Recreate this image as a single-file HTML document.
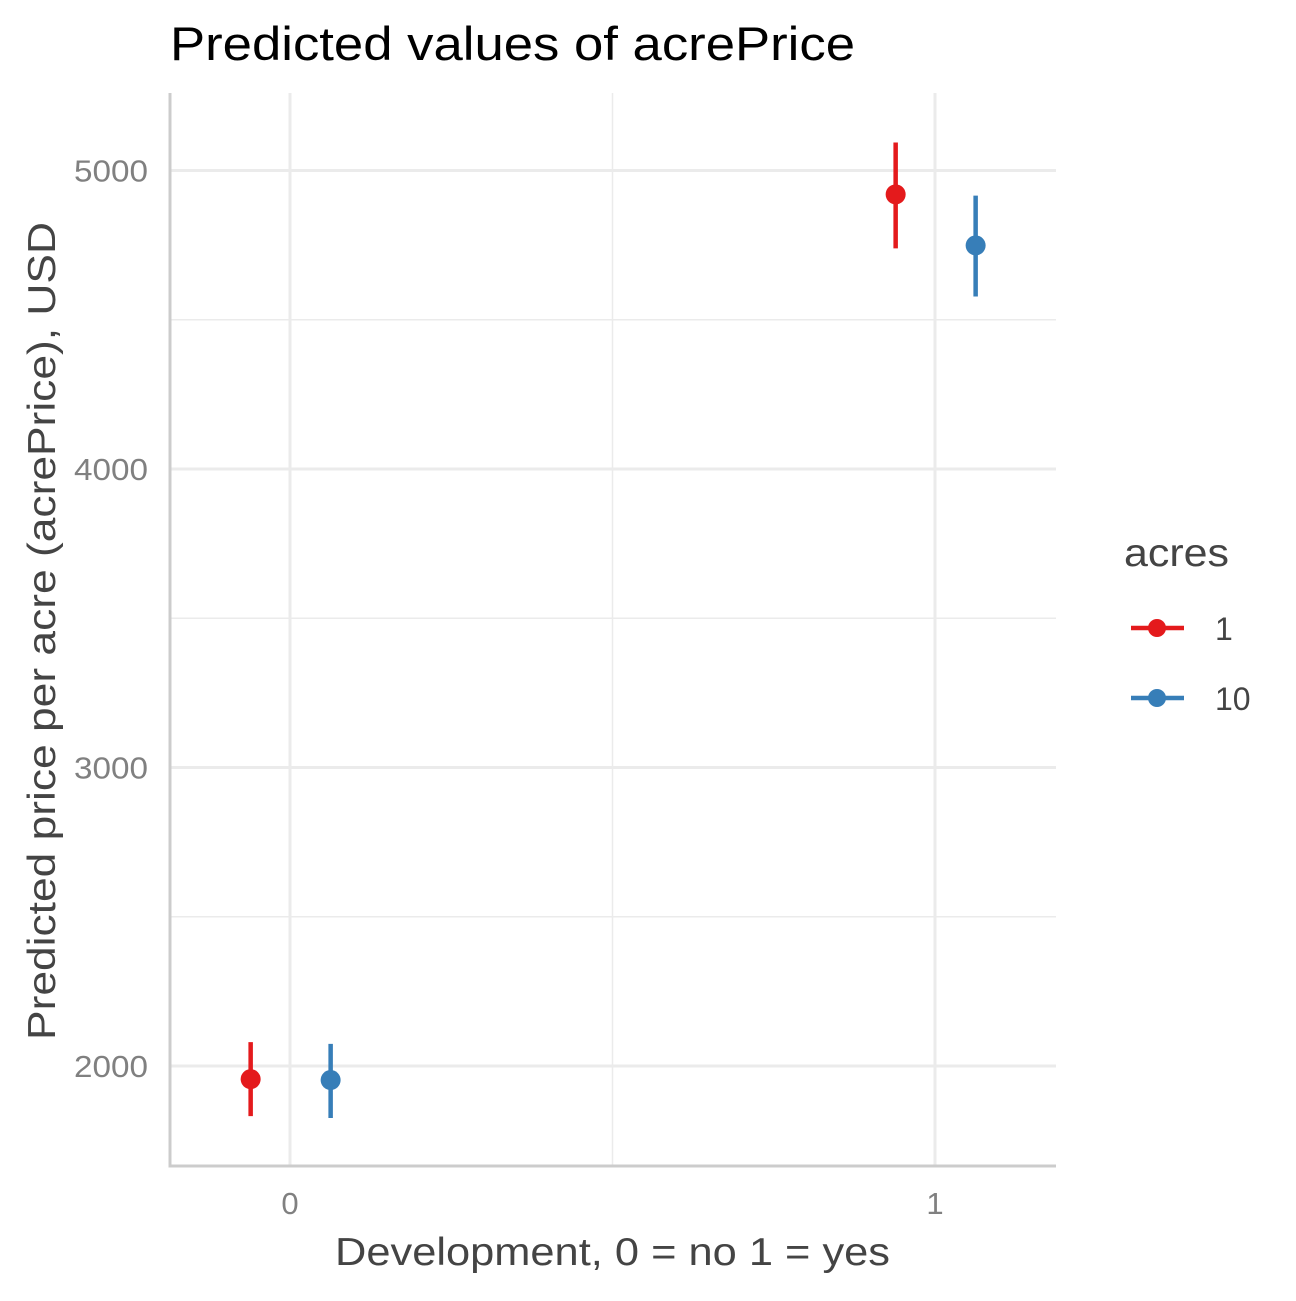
<!DOCTYPE html>
<html><head><meta charset="utf-8"><style>
body{margin:0;background:#fff;}
svg text{font-family:"Liberation Sans",Arial,sans-serif;}
</style></head><body>
<svg id="chart" width="1296" height="1296" xmlns="http://www.w3.org/2000/svg">
<rect width="1296" height="1296" fill="#fff"/>
<text x="170" y="60" font-size="47" fill="#000" textLength="685" lengthAdjust="spacingAndGlyphs">Predicted values of acrePrice</text>
<g id="grid"></g>
<g id="axes"></g>
<g id="marks"></g>
<text x="335" y="1265" font-size="39" fill="#444" textLength="555" lengthAdjust="spacingAndGlyphs">Development, 0 = no 1 = yes</text>
<text transform="translate(55,1040) rotate(-90)" font-size="39" fill="#444" textLength="818" lengthAdjust="spacingAndGlyphs">Predicted price per acre (acrePrice), USD</text>
<g>
<text x="1124" y="566" font-size="39" fill="#444" textLength="105" lengthAdjust="spacingAndGlyphs">acres</text>
<g id="legend-entries"></g>
</g>
</svg>
<script>
const categories = [0, 1];
const groups = ["1", "10"];
const colors = ["#E41A1C", "#377EB8"];
const predicted1 = [1956, 4920];
const low1 = [1832, 4739];
const high1 = [2080, 5094];
const predicted10 = [1953, 4749];
const low10 = [1826, 4578];
const high10 = [2074, 4916];
const yTicks = [2000, 3000, 4000, 5000];
const yMinor = [2500, 3500, 4500];
const xTickLabels = ["0", "1"];

const NS = "http://www.w3.org/2000/svg";
const L = 170, R = 1056, T = 93, B = 1166;
const xs = v => 290 + v * 645;
const ys = v => 1066 - (v - 2000) * 0.2985;
function mk(tag, attrs, parent) {
  const e = document.createElementNS(NS, tag);
  for (const k in attrs) e.setAttribute(k, attrs[k]);
  parent.appendChild(e);
  return e;
}
const grid = document.getElementById('grid');
yMinor.forEach(v => {
  const l = mk('line', {x1: L, x2: R, y1: ys(v), y2: ys(v), stroke: '#ebebeb', 'stroke-width': 1.5}, grid);
  
  
});
[0.5].forEach(v => {
  const l = mk('line', {x1: xs(v), x2: xs(v), y1: T, y2: B, stroke: '#ebebeb', 'stroke-width': 1.5}, grid);
  
  
});
yTicks.forEach(v => {
  const l = mk('line', {x1: L, x2: R, y1: ys(v), y2: ys(v), stroke: '#ebebeb', 'stroke-width': 3}, grid);
  
  
  const t = mk('text', {x: 74, y: ys(v) + 11, 'font-size': 31, fill: '#808080', textLength: 74, lengthAdjust: 'spacingAndGlyphs'}, grid);
  t.textContent = v;
  
  
});
categories.forEach((c, i) => {
  const l = mk('line', {x1: xs(c), x2: xs(c), y1: T, y2: B, stroke: '#ebebeb', 'stroke-width': 3}, grid);
  
  
  const t = mk('text', {x: xs(c), y: 1214, 'font-size': 31, fill: '#808080', 'text-anchor': 'middle'}, grid);
  t.textContent = xTickLabels[i];
  
  
});
const axes = document.getElementById('axes');
const ya = mk('line', {x1: L, x2: L, y1: T, y2: B + 1.5, stroke: '#cccccc', 'stroke-width': 3}, axes);


const xa = mk('line', {x1: L, x2: R, y1: B, y2: B, stroke: '#cccccc', 'stroke-width': 3}, axes);



const marks = document.getElementById('marks');
const series = [[predicted1, low1, high1], [predicted10, low10, high10]];
const dodge = [-0.061, 0.063];
series.forEach((s, g) => {
  categories.forEach((c, i) => {
    const x = xs(c + dodge[g]);
    const l = mk('line', {x1: x, x2: x, y1: ys(s[1][i]), y2: ys(s[2][i]), stroke: colors[g], 'stroke-width': 4.5}, marks);
    
    
    const p = mk('circle', {cx: x, cy: ys(s[0][i]), r: 10, fill: colors[g]}, marks);
    
    
  });
});
const le = document.getElementById('legend-entries');
groups.forEach((g, i) => {
  const y = 628 + i * 70;
  const l = mk('line', {x1: 1131, x2: 1184, y1: y, y2: y, stroke: colors[i], 'stroke-width': 4.5}, le);
  
  
  const c = mk('circle', {cx: 1157, cy: y, r: 9, fill: colors[i]}, le);
  
  
  const t = mk('text', {x: 1215, y: y + 12, 'font-size': 32, fill: '#444'}, le);
  t.textContent = g;
  
  
});
</script>
</body></html>
